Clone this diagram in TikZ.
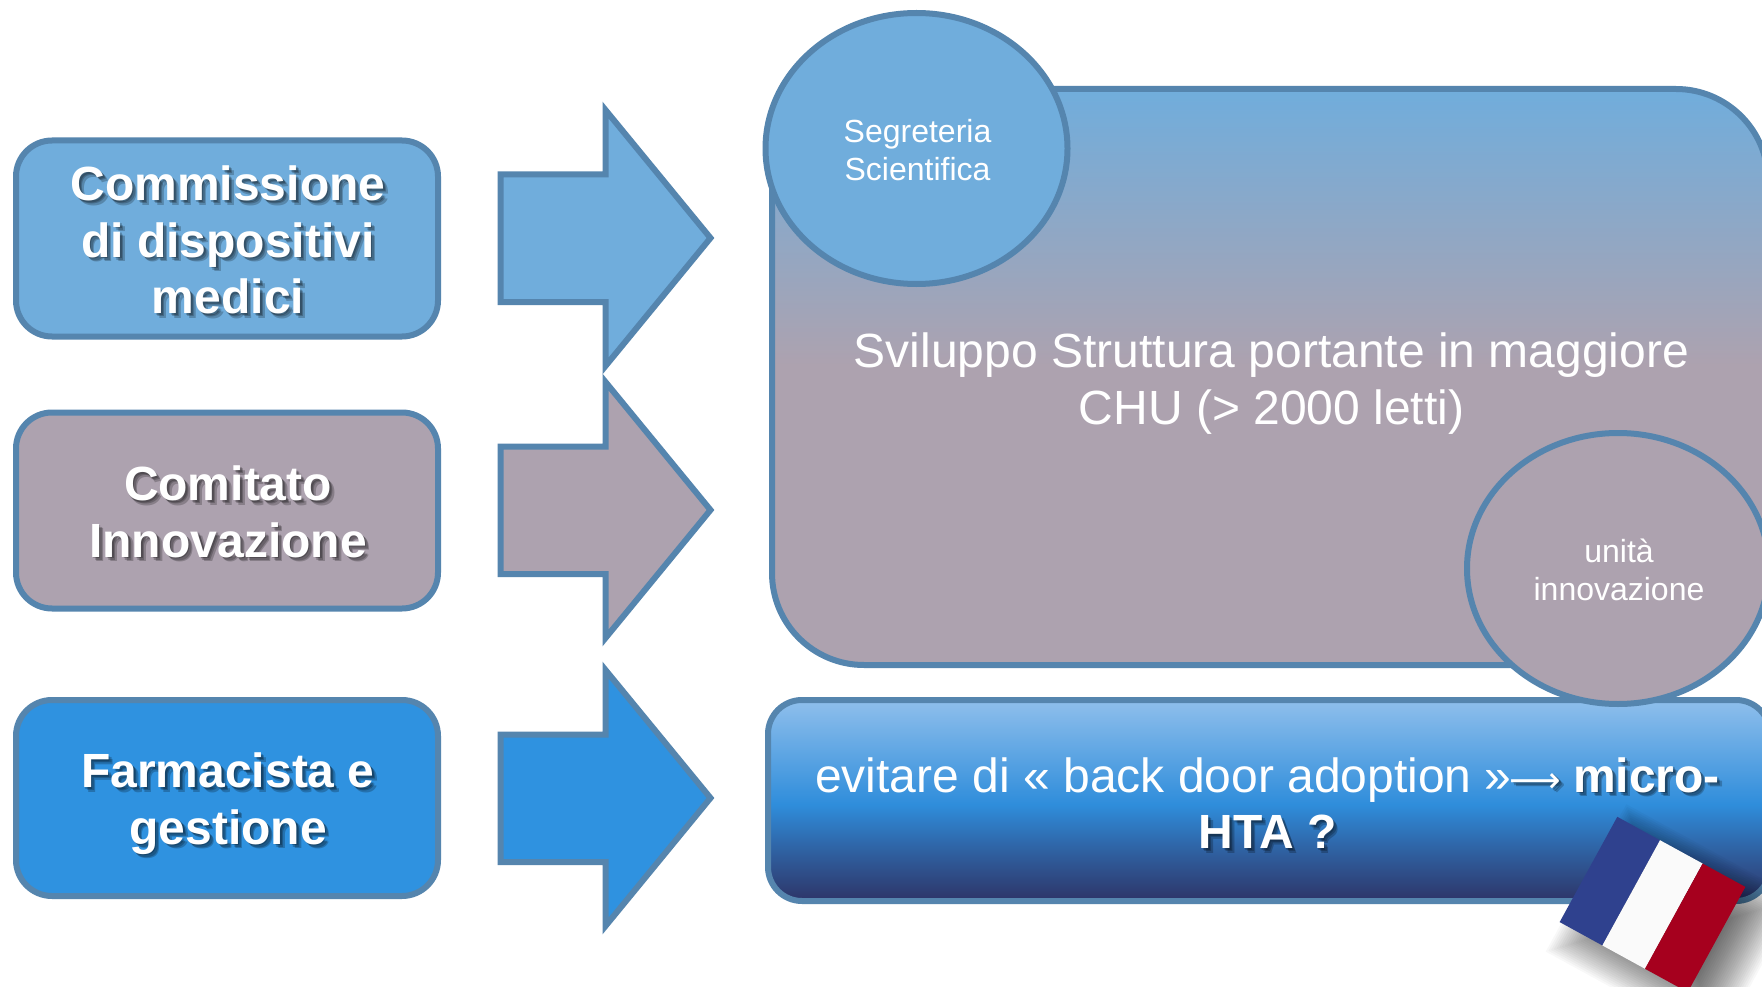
\documentclass[tikz,border=0pt]{standalone}
\usepackage{fontspec}
\setmainfont{Liberation Sans}
\newfontfamily\arrowfont{DejaVu Sans}
\definecolor{edgeblue}{HTML}{5585AE}
\definecolor{skyfill}{HTML}{70ADDC}
\definecolor{mauvefill}{HTML}{ADA2AF}
\definecolor{strongblue}{HTML}{2F92E0}
\definecolor{gradtop}{HTML}{8FBFEC}
\definecolor{gradmid}{HTML}{2F8DDB}
\definecolor{gradlow}{HTML}{2F5F9F}
\definecolor{gradbot}{HTML}{2E3568}
\definecolor{flagblue}{HTML}{2F418E}
\definecolor{flagwhite}{HTML}{FAFAFA}
\definecolor{flagred}{HTML}{A6001E}
\pgfdeclareverticalshading{bigboxshade}{100bp}{color(0bp)=(mauvefill); color(25bp)=(mauvefill); color(51bp)=(mauvefill); color(75bp)=(skyfill); color(100bp)=(skyfill)}
\pgfdeclareverticalshading{htashade}{100bp}{color(0bp)=(gradbot); color(25bp)=(gradbot); color(37bp)=(gradlow); color(49bp)=(gradmid); color(75bp)=(gradtop); color(100bp)=(gradtop)}
\tikzset{
  edged/.style={draw=edgeblue,line width=6pt},
  sidebox/.style={edged,rounded corners=36pt,minimum width=422pt,minimum height=196pt,inner sep=0pt},
  blockarrow/.style={edged,miter limit=10,line join=miter},
  circ/.style={edged,ellipse,minimum width=302pt,minimum height=271pt,inner sep=0pt,fill=skyfill},
  boldtext/.style={text=white,font=\fontsize{48}{56.5}\selectfont\bfseries,align=center,inner sep=0pt},
  largetext/.style={text=white,font=\fontsize{48}{56.5}\selectfont,align=center,inner sep=0pt},
  smalltext/.style={text=white,font=\fontsize{32}{38}\selectfont,align=center,inner sep=0pt},
  castshadow/.style={text=black,text opacity=.22,font=\fontsize{48}{56.5}\selectfont,align=center,inner sep=0pt},
}
\usetikzlibrary{shapes.geometric}
\newcommand{\longarr}{\makebox[48pt][c]{\arrowfont\fontsize{36}{36}\selectfont ⟶}}
\newcommand{\shadowed}[4]{% name, x, y, text
  \foreach \off/\lab in {1.5/a,3/b,4.5/c}
    \node[castshadow,font=\fontsize{48}{56.5}\selectfont\bfseries] (#1s\lab) at (#2+\off,#3+\off) {#4};
  \node[boldtext] (#1) at (#2,#3) {#4};
}
\newcommand{\blockarrowat}[2]{% y-offset, fill
  \draw[blockarrow,fill=#2] (500.5,174.5+#1) -- (605.5,174.5+#1) -- (605.5,110+#1) -- (710.5,238+#1) -- (605.5,366+#1) -- (605.5,302+#1) -- (500.5,302+#1) -- cycle;
}
\begin{document}
\begin{tikzpicture}[x=1pt,y=-1pt]
\useasboundingbox (0,0) rectangle (1762,987);
\clip (0,0) rectangle (1762,987);
\fill[white] (0,0) rectangle (1762,987);

% left boxes
\node[sidebox,fill=skyfill] (b1) at (227,238.5) {};
\node[sidebox,fill=mauvefill] (b2) at (227,510.5) {};
\node[sidebox,fill=strongblue] (b3) at (227,798) {};

% block arrows
\blockarrowat{0}{skyfill}
\blockarrowat{272}{mauvefill}
\blockarrowat{560}{strongblue}

% right boxes
\shade[shading=htashade,draw=edgeblue,line width=6pt,rounded corners=34pt] (768,700) rectangle (1770,901);
\shade[shading=bigboxshade,draw=edgeblue,line width=6pt,rounded corners=92pt] (772,89) rectangle (1768,665);

% ellipses
\node[circ] (seg) at (916.5,148.5) {};
\node[circ,fill=mauvefill] (uni) at (1618,568.5) {};

% texts
\shadowed{t1}{228}{240}{Commissione\\di dispositivi\\medici}
\shadowed{t2}{228}{512}{Comitato\\Innovazione}
\shadowed{t3}{228}{803.5}{Farmacista e\\gestione}
\node[largetext] (main) at (1271.5,383.5) {Sviluppo Struttura portante in maggiore\\CHU (> 2000 letti)};
\node[smalltext] (segt) at (917.5,150) {Segreteria\\Scientifica};
\node[smalltext] (unit) at (1619,570) {unità\\innovazione};
\foreach \off/\lab in {1.5/a,3/b,4.5/c}
  \node[castshadow] (evs\lab) at (1267.5+\off,803+\off) {\phantom{evitare di « back door adoption »}\longarr{} \textbf{micro-}\\\textbf{HTA ?}};
\node[largetext] (ev) at (1267.5,803) {evitare di « back door adoption »\longarr{} \textbf{micro-}\\\textbf{HTA ?}};

% flag shadow
\foreach \k in {0,...,25}
  \fill[black,opacity=.028,rotate around={-28.7:(1672,925)}] (1672-98+2*\k,925-84+2*\k) rectangle (1672+98-2*\k,925+84-2*\k);

% flag
\begin{scope}[shift={(1652.5,904.5)},rotate=-28.7]
  \fill[flagblue] (-73,-60) rectangle (-24.3,60);
  \fill[flagwhite] (-24.3,-60) rectangle (24.3,60);
  \fill[flagred] (24.3,-60) rectangle (73,60);
\end{scope}
\end{tikzpicture}
\end{document}
